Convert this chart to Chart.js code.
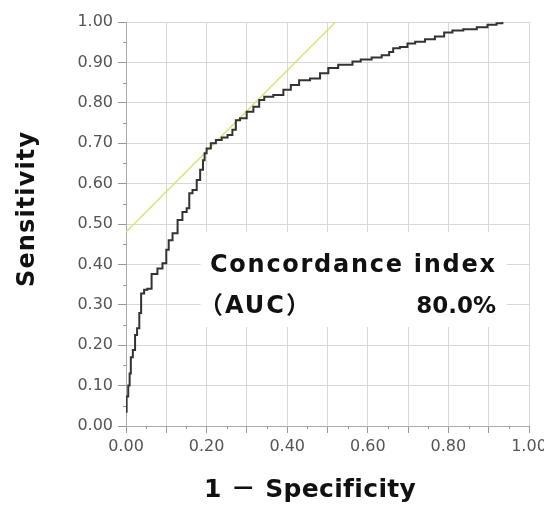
<!DOCTYPE html>
<html>
<head>
<meta charset="utf-8">
<script src="https://cdn.jsdelivr.net/npm/chart.js@4"></script>
<style>
  html, body { margin: 0; padding: 0; background: #fff; overflow: hidden; }
  #wrap { width: 544px; height: 506px; }
</style>
</head>
<body>
<div id="wrap"><canvas id="rocChart"></canvas></div>
<script>
// ROC curve (1 - specificity, sensitivity)
const fpr = [0, 0.003, 0.008, 0.010, 0.014, 0.020, 0.025, 0.030, 0.036, 0.039, 0.051, 0.055, 0.072, 0.084, 0.097,
  0.103, 0.109, 0.122, 0.134, 0.146, 0.155, 0.159, 0.171, 0.180, 0.188, 0.194, 0.196, 0.204, 0.217, 0.229,
  0.246, 0.258, 0.270, 0.275, 0.291, 0.308, 0.324, 0.337, 0.349, 0.382, 0.399, 0.419, 0.440, 0.473, 0.490,
  0.514, 0.539, 0.556, 0.568, 0.597, 0.622, 0.647, 0.659, 0.667, 0.692, 0.705, 0.730, 0.754, 0.779, 0.800,
  0.820, 0.854, 0.887, 0.907, 0.932, 0.936];
const tpr = [0.035, 0.073, 0.100, 0.130, 0.170, 0.188, 0.225, 0.242, 0.280, 0.328, 0.337, 0.340, 0.376, 0.390, 0.403,
  0.436, 0.460, 0.477, 0.510, 0.530, 0.539, 0.576, 0.584, 0.609, 0.634, 0.658, 0.675, 0.687, 0.700, 0.708,
  0.714, 0.720, 0.733, 0.757, 0.762, 0.778, 0.790, 0.807, 0.815, 0.819, 0.832, 0.844, 0.856, 0.860, 0.873,
  0.886, 0.894, 0.894, 0.902, 0.907, 0.912, 0.918, 0.926, 0.935, 0.938, 0.947, 0.951, 0.957, 0.964, 0.974,
  0.979, 0.982, 0.987, 0.993, 0.997, 0.999];

// tangent (cut-off) line
const cutX = [0, 0.52];
const cutY = [0.48, 1.0];

const xTickLabels = ['0.00', '0.20', '0.40', '0.60', '0.80', '1.00'];
const yTickLabels = ['0.00', '0.10', '0.20', '0.30', '0.40', '0.50', '0.60', '0.70', '0.80', '0.90', '1.00'];

const xTitle = '1 － Specificity';
const yTitle = 'Sensitivity';
const aucLine1 = 'Concordance index';
const aucLine2 = '（AUC）';
const aucValue = '80.0%';

function fitText(ctx, text, x, y, w) {
  ctx.letterSpacing = '0px';
  const m = ctx.measureText(text).width;
  const sp = (w - m) / (text.length - 1);
  ctx.letterSpacing = sp.toFixed(2) + 'px';
  ctx.textAlign = 'left';
  ctx.fillText(text, x, y);
  ctx.letterSpacing = '0px';
}

const overlay = {
  id: 'overlay',
  beforeDatasetsDraw(chart) {
    const { ctx, chartArea } = chart;
    const sx = chart.scales.x, sy = chart.scales.y;
    ctx.save();
    // white box behind the AUC text
    const bx0 = sx.getPixelForValue(0.185), bx1 = sx.getPixelForValue(0.945);
    const by0 = sy.getPixelForValue(0.48), by1 = sy.getPixelForValue(0.245);
    ctx.fillStyle = '#fff';
    ctx.fillRect(bx0, by0, bx1 - bx0, by1 - by0);
    // minor ticks
    ctx.strokeStyle = '#999';
    ctx.lineWidth = 1;
    for (let i = 0; i < 10; i++) {
      const v = i / 10 + 0.05;
      const py = Math.round(sy.getPixelForValue(v)) + 0.5;
      ctx.beginPath();
      ctx.moveTo(chartArea.left - 3, py);
      ctx.lineTo(chartArea.left, py);
      ctx.stroke();
      const px = Math.round(sx.getPixelForValue(v)) + 0.5;
      ctx.beginPath();
      ctx.moveTo(px, chartArea.bottom);
      ctx.lineTo(px, chartArea.bottom + 3);
      ctx.stroke();
    }
    ctx.restore();
  },
  afterDraw(chart) {
    const { ctx } = chart;
    ctx.save();
    ctx.fillStyle = '#111';
    ctx.textBaseline = 'alphabetic';

    ctx.font = 'bold 24px "DejaVu Sans", "Noto Sans CJK JP"';
    fitText(ctx, aucLine1, 210, 272, 285);
    ctx.textAlign = 'left';
    ctx.letterSpacing = '2px';
    ctx.fillText(aucLine2, 199, 313);
    ctx.letterSpacing = '0px';
    ctx.font = 'bold 23px "DejaVu Sans"';
    ctx.textAlign = 'right';
    ctx.fillText(aucValue, 496, 313);

    ctx.font = 'bold 25px "DejaVu Sans", "Noto Sans CJK JP"';
    fitText(ctx, xTitle, 204, 497, 211);

    ctx.font = 'bold 24px "DejaVu Sans"';
    ctx.translate(34, 210);
    ctx.rotate(-Math.PI / 2);
    fitText(ctx, yTitle, -77, 0, 155);
    ctx.restore();
  }
};

document.addEventListener('DOMContentLoaded', () => {
  const ctx = document.getElementById('rocChart').getContext('2d');

  new Chart(ctx, {
    type: 'scatter',
    data: {
      datasets: [
        {
          label: 'ROC',
          data: fpr.map((x, i) => ({ x: x, y: tpr[i] })),
          showLine: true,
          borderColor: '#333',
          borderWidth: 2,
          pointRadius: 0,
          stepped: 'middle',
          order: 1
        },
        {
          label: 'Cut-off',
          data: cutX.map((x, i) => ({ x: x, y: cutY[i] })),
          showLine: true,
          borderColor: 'rgb(222, 224, 120)',
          borderWidth: 1.5,
          pointRadius: 0,
          order: 2
        }
      ]
    },
    options: {
      responsive: true,
      maintainAspectRatio: false,
      animation: false,
      devicePixelRatio: 1,
      layout: { padding: { top: 22, right: 15, left: 0, bottom: 0 } },
      plugins: {
        legend: { display: false },
        tooltip: { enabled: false }
      },
      scales: {
        x: {
          type: 'linear',
          min: 0,
          max: 1,
          ticks: {
            stepSize: 0.1,
            autoSkip: false,
            maxRotation: 0,
            padding: 4,
            color: '#555',
            font: { family: 'DejaVu Sans', size: 16 },
            callback: v => {
              const s = v.toFixed(2);
              return xTickLabels.includes(s) ? s : '';
            }
          },
          grid: { color: '#d8d8d8', tickColor: '#999', tickLength: 7 },
          border: { color: '#aaa' },
          afterFit: s => { s.height = 80; s.paddingRight = 0; s.paddingLeft = 0; }
        },
        y: {
          min: 0,
          max: 1,
          ticks: {
            stepSize: 0.1,
            autoSkip: false,
            padding: 5,
            color: '#555',
            font: { family: 'DejaVu Sans', size: 16 },
            callback: v => {
              const s = v.toFixed(2);
              return yTickLabels.includes(s) ? s : '';
            }
          },
          grid: { color: '#d8d8d8', tickColor: '#999', tickLength: 8 },
          border: { color: '#aaa' },
          afterFit: s => { s.width = 126; }
        }
      }
    },
    plugins: [overlay]
  });
});
</script>
</body>
</html>
